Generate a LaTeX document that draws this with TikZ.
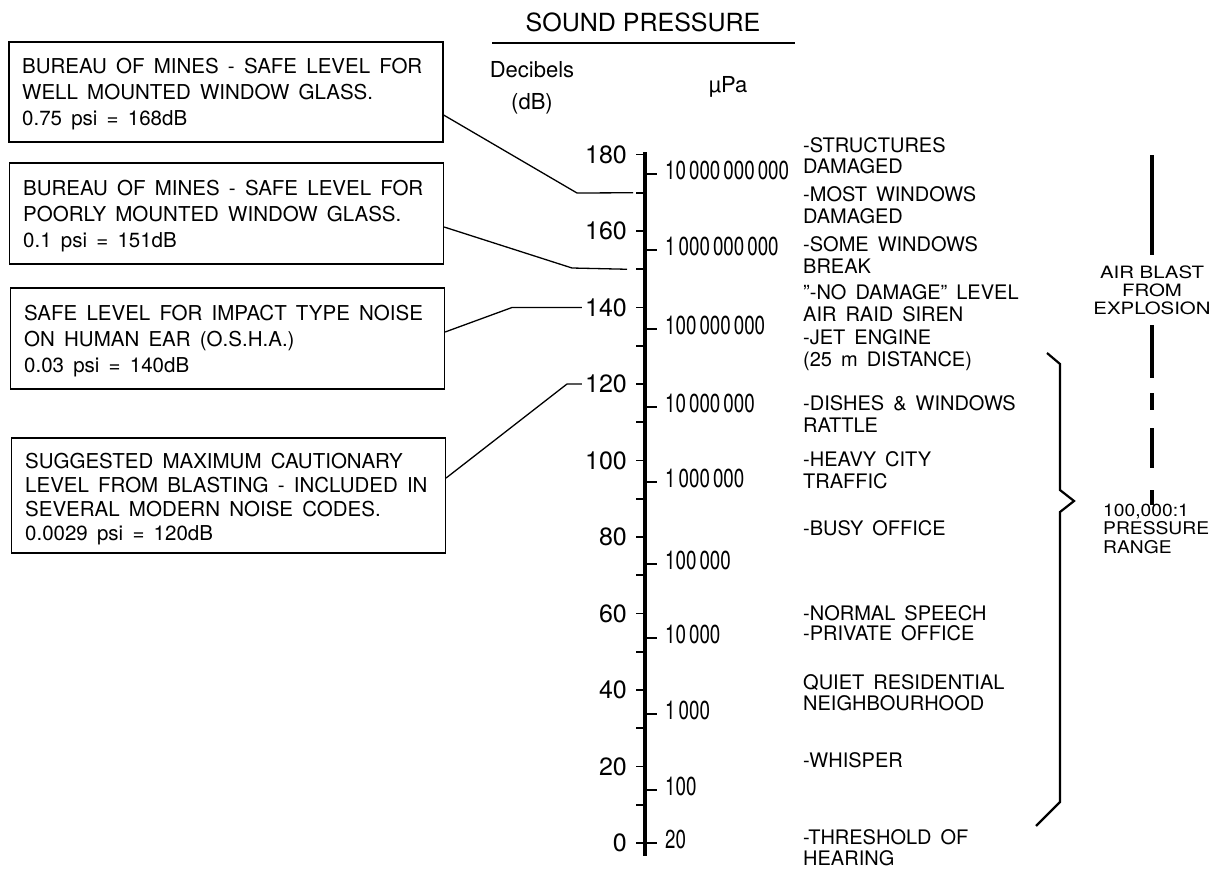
\documentclass[tikz,border=0pt]{standalone}
\usepackage{fontspec}
\setmainfont{TeX Gyre Heros}
\usepackage{graphicx}
\newcommand\pnum[1]{\scalebox{0.72}[1]{#1}}
\newcommand\lns[1]{\spaceskip=0.45em\relax\begin{tabular}{@{}l@{}}#1\end{tabular}}
\newcommand\clns[1]{\begin{tabular}{@{}c@{}}#1\end{tabular}}
\begin{document}
\begin{tikzpicture}[x=1pt,y=-1pt,
  box/.style={draw, line width=1.2pt, minimum width=434pt, inner sep=0pt},
  boxtext/.style={anchor=west, inner sep=0pt, font=\fontsize{20.5}{26}\selectfont},
  lead/.style={line width=1.3pt, line join=miter},
  dbl/.style={anchor=east, inner sep=0pt, font=\fontsize{25}{25}\selectfont},
  pal/.style={anchor=west, inner sep=0pt, font=\fontsize{26}{26}\selectfont},
  lab/.style={anchor=west, inner sep=0pt, font=\fontsize{20}{21.5}\selectfont},
  tick/.style={line width=1.8pt},
  blast/.style={line width=4.5pt}]
\useasboundingbox (0,0) rectangle (1226,870);

% title
\node[font=\fontsize{25}{25}\selectfont, inner sep=0pt] (title) at (643,22) {SOUND PRESSURE};
\draw[line width=2pt] (492,43) -- (795,43);
\node[inner sep=0pt, font=\fontsize{22}{32}\selectfont] (dbh) at (532,87.5) {\clns{Decibels\\(dB)}};
\node[inner sep=0pt, font=\fontsize{22}{22}\selectfont] (pah) at (728,87) {µPa};

% boxes
\node[box, minimum height=100pt] (b1) at (226,92) {};
\node[boxtext] (t1) at (22,94.5) {\lns{BUREAU OF MINES - SAFE LEVEL FOR\\WELL MOUNTED WINDOW GLASS.\\0.75 psi = 168dB}};
\node[box, minimum height=101pt] (b2) at (226.5,213.5) {};
\node[boxtext] (t2) at (23,216.5) {\lns{BUREAU OF MINES - SAFE LEVEL FOR\\POORLY MOUNTED WINDOW GLASS.\\0.1 psi = 151dB}};
\node[box, minimum height=101pt] (b3) at (227.5,338.5) {};
\node[boxtext] (t3) at (24,341.5) {\lns{SAFE LEVEL FOR IMPACT TYPE NOISE\\ON HUMAN EAR (O.S.H.A.)\\0.03 psi = 140dB}};
\node[box, minimum height=115pt] (b4) at (228.5,495.5) {};
\node[boxtext, font=\fontsize{20.5}{24}\selectfont] (t4) at (25,500) {\lns{SUGGESTED MAXIMUM CAUTIONARY\\LEVEL FROM BLASTING - INCLUDED IN\\SEVERAL MODERN NOISE CODES.\\0.0029 psi = 120dB}};

% axis
\coordinate (atop) at (645,152);
\coordinate (abot) at (645,856);
\draw[line width=4pt] (atop) -- (abot);
\foreach \d in {0,10,...,180} \draw[tick] (636,{843-3.825*\d}) -- (645,{843-3.825*\d});
\foreach \d in {0,20,...,180} \node[dbl] (d\d) at (627,{843-3.825*\d}) {\d};
\coordinate (t170) at (633,{843-3.825*170});
\coordinate (t150) at (627,{843-3.825*150});

% uPa ticks and labels
\foreach \y/\t/\n in {174/10\,000\,000\,000/p10, 250/1\,000\,000\,000/p9, 329/100\,000\,000/p8,
  407/10\,000\,000/p7, 482/1\,000\,000/p6, 564/100\,000/p5, 638/10\,000/p4, 714/1\,000/p3,
  790/100/p2, 843/20/p1} {
  \draw[tick] (645,\y) -- (657,\y);
  \node[pal] (\n) at (665,\y-3.5) {\pnum{\t}};
}

% leaders
\draw[lead] ([yshift=-23pt]b1.east) -- (577,193) -- (t170);
\draw[lead] ([yshift=-13.5pt]b2.east) -- (572,268) -- (t150);
\draw[lead] ([yshift=6.5pt]b3.east) -- (512,{843-3.825*140}) -- ([xshift=-3pt]d140.west);
\draw[lead] ([yshift=17.5pt]b4.east) -- (567,{843-3.825*120}) -- ([xshift=-3pt]d120.west);

% right labels
\node[lab] (r1) at (803,158.5) {\lns{-STRUCTURES\\DAMAGED}};
\node[lab] (r2) at (803,208) {\lns{-MOST WINDOWS\\DAMAGED}};
\node[lab] (r3) at (803,258) {\lns{-SOME WINDOWS\\BREAK}};
\node[lab, font=\fontsize{20}{22.5}\selectfont] (r4) at (803,328.7) {\lns{"-NO DAMAGE" LEVEL\\AIR RAID SIREN\\-JET ENGINE\\(25 m DISTANCE)}};
\node[lab] (r5) at (803,417) {\lns{-DISHES \& WINDOWS\\RATTLE}};
\node[lab] (r6) at (803,473) {\lns{-HEAVY CITY\\TRAFFIC}};
\node[lab] (r7) at (803,531) {\lns{-BUSY OFFICE}};
\node[lab, font=\fontsize{20}{19}\selectfont] (r8) at (803,626) {\lns{-NORMAL SPEECH\\-PRIVATE OFFICE}};
\node[lab] (r9) at (803,695.5) {\lns{QUIET RESIDENTIAL\\NEIGHBOURHOOD}};
\node[lab] (r10) at (803,763) {\lns{-WHISPER}};
\node[lab] (r11) at (803,850.5) {\lns{-THRESHOLD OF\\HEARING}};

% brace
\draw[line width=2.2pt, line join=miter] (1047,353) -- (1060,364) -- (1060,490) -- (1074,501) -- (1060,512) -- (1060,802) -- (1036,826);

% air blast
\node[inner sep=0pt, font=\fontsize{17}{17.5}\selectfont] (ab) at (1152,293) {\scalebox{1.2}[1]{\clns{AIR BLAST\\FROM\\EXPLOSION}}};
\draw[blast] (1152,155) -- (1152,255);
\draw[blast] (1152,325) -- (1152,378);
\draw[blast] (1152,393) -- (1152,410);
\draw[blast] (1152,428) -- (1152,468);
\draw[blast] (1152,490) -- (1152,505);
\node[anchor=west, inner sep=0pt, font=\fontsize{17.5}{18}\selectfont] (pr) at (1103,531) {\scalebox{1.1}[1]{\lns{100,000:1\\PRESSURE\\RANGE}}};
\end{tikzpicture}
\end{document}
